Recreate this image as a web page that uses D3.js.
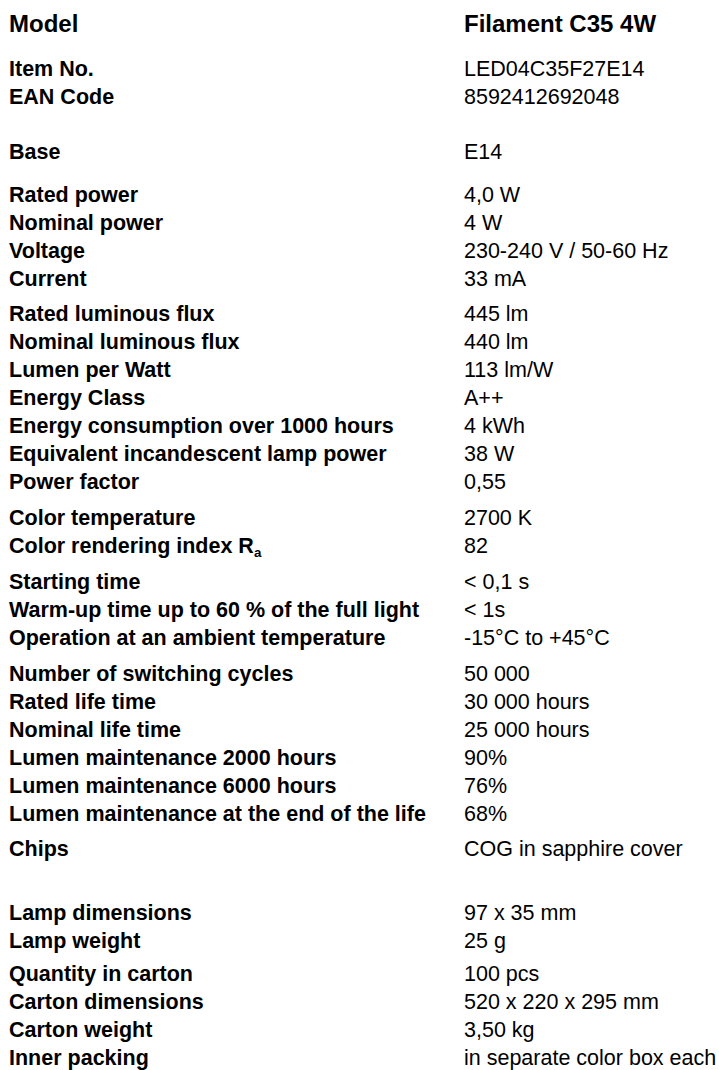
<!DOCTYPE html>
<html>
<head>
<meta charset="utf-8">
<script src="https://cdn.jsdelivr.net/npm/d3@7"></script>
<style>
  html, body { margin: 0; padding: 0; background: #fff; }
  svg { display: block; }
</style>
</head>
<body>
<svg id="sheet"></svg>
<script>
// Product data sheet: spec names on the left, values on the right,
// rows bunched into groups with a bit of air between them.

const headerLabel = 'Model';
const headerValue = 'Filament C35 4W';

// one entry per group, row order kept as in the sheet
const groupLabels = [
    ['Item No.', 'EAN Code'],
    ['Base'],
    ['Rated power', 'Nominal power', 'Voltage', 'Current'],
    ['Rated luminous flux', 'Nominal luminous flux', 'Lumen per Watt', 'Energy Class',
     'Energy consumption over 1000 hours', 'Equivalent incandescent lamp power', 'Power factor'],
    ['Color temperature', 'Color rendering index R_a'],
    ['Starting time', 'Warm-up time up to 60 % of the full light', 'Operation at an ambient temperature'],
    ['Number of switching cycles', 'Rated life time', 'Nominal life time',
     'Lumen maintenance 2000 hours', 'Lumen maintenance 6000 hours',
     'Lumen maintenance at the end of the life'],
    ['Chips'],
    ['Lamp dimensions', 'Lamp weight'],
    ['Quantity in carton', 'Carton dimensions', 'Carton weight', 'Inner packing']
];

const groupValues = [
    ['LED04C35F27E14', '8592412692048'],
    ['E14'],
    ['4,0 W', '4 W', '230-240 V / 50-60 Hz', '33 mA'],
    ['445 lm', '440 lm', '113 lm/W', 'A++', '4 kWh', '38 W', '0,55'],
    ['2700 K', '82'],
    ['< 0,1 s', '< 1s', '-15°C to +45°C'],
    ['50 000', '30 000 hours', '25 000 hours', '90%', '76%', '68%'],
    ['COG in sapphire cover'],
    ['97 x 35 mm', '25 g'],
    ['100 pcs', '520 x 220 x 295 mm', '3,50 kg', 'in separate color box each']
];

// ----- layout -----
const WIDTH = 719;
const HEIGHT = 1070;
const LABEL_X = 9;
const VALUE_X = 464;
const HEADER_Y = 32;
const FIRST_ROW_Y = 76;
const ROW_STEP = 28;
// extra space above each group (first entry = header to first group)
const GROUP_GAP = [0, 27, 15, 7, 8, 8, 8, 7, 36, 5];
const FONT = '"Liberation Sans", Arial, Helvetica, sans-serif';
const FONT_SIZE = 21.5;
const HEADER_SIZE = 24;

const svg = d3.select('#sheet')
    .attr('width', WIDTH)
    .attr('height', HEIGHT)
    .attr('viewBox', `0 0 ${WIDTH} ${HEIGHT}`)
    .style('font-family', FONT);

// flatten into rows, tracking a "slot" offset so the y scale stays linear
const rows = [];
let offset = 0;
groupLabels.forEach((labels, g) => {
    offset += GROUP_GAP[g];
    labels.forEach((label, i) => {
        rows.push({ label, value: groupValues[g][i], index: rows.length, offset });
    });
});

const y = d3.scaleLinear()
    .domain([0, 1])
    .range([FIRST_ROW_Y, FIRST_ROW_Y + ROW_STEP]);

// header row
const header = svg.append('g').attr('class', 'header')
    .style('font-weight', 'bold')
    .style('font-size', `${HEADER_SIZE}px`);
header.append('text').attr('x', LABEL_X).attr('y', HEADER_Y).text(headerLabel);
header.append('text').attr('x', VALUE_X).attr('y', HEADER_Y).text(headerValue);

const rowG = svg.append('g').attr('class', 'rows')
    .style('font-size', `${FONT_SIZE}px`)
    .selectAll('g.row')
    .data(rows)
    .join('g')
    .attr('class', 'row')
    .attr('transform', (d) => `translate(0,${y(d.index) + d.offset})`);

// labels: "_x" marks a subscript part (R_a)
rowG.append('text')
    .attr('x', LABEL_X)
    .style('font-weight', 'bold')
    .each(function (d) {
        const parts = d.label.split('_');
        const t = d3.select(this);
        t.append('tspan').text(parts[0]);
        if (parts[1]) {
            t.append('tspan')
                .attr('dy', 4)
                .style('font-size', `${FONT_SIZE * 0.62}px`)
                .text(parts[1]);
        }
    });

rowG.append('text')
    .attr('x', VALUE_X)
    .text((d) => d.value);
</script>
</body>
</html>
